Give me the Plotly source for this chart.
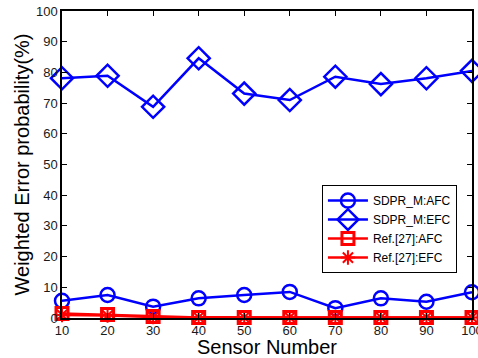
import plotly.graph_objects as go

sensors = [10, 20, 30, 40, 50, 60, 70, 80, 90, 100]
sdpr_afc = [5.6, 7.5, 3.7, 6.4, 7.5, 8.5, 3.2, 6.4, 5.3, 8.4]
sdpr_efc = [78.1, 78.9, 68.8, 84.6, 73.1, 71.0, 78.6, 76.2, 78.1, 80.5]
ref_afc = [1.5, 1.1, 0.5, 0.2, 0.2, 0.2, 0.2, 0.2, 0.2, 0.2]
ref_efc = [1.0, 0.8, 0.3, 0.2, 0.2, 0.2, 0.2, 0.2, 0.2, 0.2]

BLUE = "#0000ff"
RED = "#ff0000"

fig = go.Figure()
fig.add_trace(go.Scatter(
    x=sensors, y=sdpr_afc, name="SDPR_M:AFC", mode="lines+markers",
    line=dict(color=BLUE, width=2.5),
    marker=dict(symbol="circle-open", size=14, color=BLUE, line=dict(width=2.5)),
    cliponaxis=False))
fig.add_trace(go.Scatter(
    x=sensors, y=sdpr_efc, name="SDPR_M:EFC", mode="lines+markers",
    line=dict(color=BLUE, width=2.5),
    marker=dict(symbol="diamond-open", size=17, color=BLUE, line=dict(width=2.5)),
    cliponaxis=False))
fig.add_trace(go.Scatter(
    x=sensors, y=ref_afc, name="Ref.[27]:AFC", mode="lines+markers",
    line=dict(color=RED, width=2.5),
    marker=dict(symbol="square-open", size=12, color=RED, line=dict(width=3)),
    cliponaxis=False))
fig.add_trace(go.Scatter(
    x=sensors, y=ref_efc, name="Ref.[27]:EFC", mode="lines+markers",
    line=dict(color=RED, width=2.5),
    marker=dict(symbol="asterisk-open", size=12, color=RED, line=dict(width=2)),
    cliponaxis=False))

axis_common = dict(
    showline=True, linecolor="black", linewidth=1.5, mirror="ticks",
    ticks="inside", ticklen=5, tickcolor="black", showgrid=False, zeroline=False,
    tickfont=dict(family="Liberation Sans, Arial, sans-serif", size=13, color="#1a1a1a"),
)

fig.update_layout(
    width=478, height=358,
    margin=dict(l=62, r=6, t=11, b=40),
    paper_bgcolor="white", plot_bgcolor="white",
    font=dict(family="Liberation Sans, Arial, sans-serif", color="black"),
    xaxis=dict(range=[10, 100], tickvals=sensors, ticklabeloverflow="allow",
               automargin=False,
               title=dict(text="Sensor Number", font=dict(size=20), standoff=6),
               **axis_common),
    yaxis=dict(range=[0, 100], tickvals=list(range(0, 101, 10)),
               automargin=False,
               title=dict(text="Weighted Error probability(%)", font=dict(size=20), standoff=1),
               **axis_common),
    legend=dict(x=0.634, y=0.433, xanchor="left", yanchor="top",
                bgcolor="white", bordercolor="black", borderwidth=1,
                font=dict(size=12, color="black"), tracegroupgap=0,
                itemwidth=40),
    showlegend=True,
)

fig.write_html("out.html")
